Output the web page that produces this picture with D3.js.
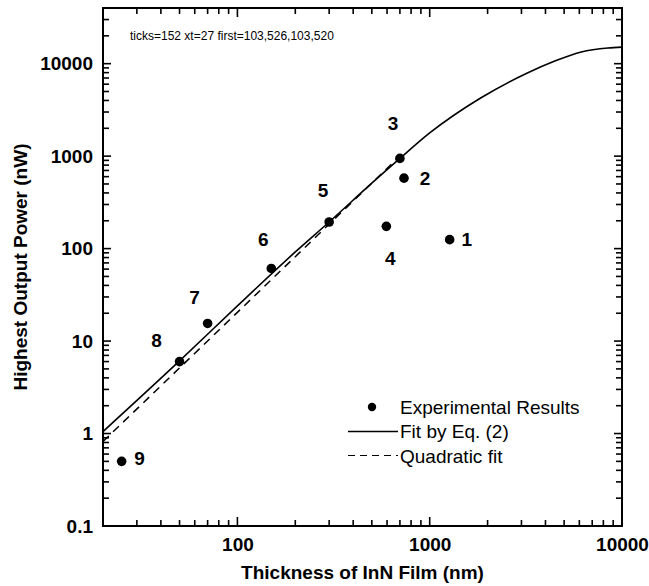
<!DOCTYPE html>
<html lang="en">
<head>
<meta charset="UTF-8">
<script src="https://cdn.jsdelivr.net/npm/d3@7/dist/d3.min.js"></script>
<style>
    body { margin: 0; background: #fff; }
    text { font-family: "Liberation Sans", Arial, sans-serif; fill: #000; }
    .tick-label { font-size: 19px; font-weight: bold; }
    .axis-title { font-size: 19px; font-weight: bold; }
    .point-label { font-size: 19px; font-weight: bold; }
    .legend-text { font-size: 19px; }
</style>
</head>
<body>
<svg id="chart" width="649" height="586"></svg>
<script>
// measured samples (thickness in nm, power in nW)
const thickness = [1270, 735, 700, 595, 300, 150, 70, 50, 25];
const power = [125, 578, 945, 174, 194, 61, 15.5, 6, 0.5];
const sampleIds = ["1", "2", "3", "4", "5", "6", "7", "8", "9"];

// fit by Eq. (2)
const fitX = [20, 50, 100, 200, 300, 500, 700, 1000, 1840, 3220, 4440, 6140, 8450, 10000];
const fitY = [1.05, 6.1, 24, 92, 194, 510, 945, 1780, 4250, 7930, 10600, 13390, 14780, 15100];

// quadratic fit (straight on log-log)
const quadX = [20, 700];
const quadY = [0.82, 1000];

const xTickValues = [100, 1000, 10000];
const xTickLabels = ["100", "1000", "10000"];
const yTickValues = [0.1, 1, 10, 100, 1000, 10000];
const yTickLabels = ["0.1", "1", "10", "100", "1000", "10000"];
const legendLabels = ["Experimental Results", "Fit by Eq. (2)", "Quadratic fit"];

// where each sample number sits relative to its dot (px)
const labelNudge = [[17, 0], [21, 0], [-7, -35], [4, 32], [-6, -32], [-8, -29], [-13, -26], [-23, -21], [18, -3]];

const plotLeft = 103, plotRight = 622, plotTop = 8, plotBottom = 526;

const svg = d3.select("#chart");

const xScale = d3.scaleLog().domain([20, 10000]).range([plotLeft, plotRight]);
const yScale = d3.scaleLog().domain([0.1, 40000]).range([plotBottom, plotTop]);

const xAllTicks = xScale.ticks(10);
const yAllTicks = yScale.ticks(10);
const near = (list, d) => list.some(v => Math.abs(v - d) / v < 1e-6);

svg.append("rect")
    .attr("x", plotLeft).attr("y", plotTop)
    .attr("width", plotRight - plotLeft).attr("height", plotBottom - plotTop)
    .attr("fill", "none").attr("stroke", "#000").attr("stroke-width", 2);

// tick marks, inward on all four sides
const xTickData = [];
xAllTicks.forEach(d => {
    const len = near(xTickValues, d) ? 9 : 6;
    xTickData.push({ p: xScale(d), a: plotBottom, b: plotBottom - len });
    xTickData.push({ p: xScale(d), a: plotTop, b: plotTop + len });
});
const yTickData = [];
yAllTicks.forEach(d => {
    const len = near(yTickValues, d) ? 8 : 6;
    yTickData.push({ p: yScale(d), a: plotLeft, b: plotLeft + len });
    yTickData.push({ p: yScale(d), a: plotRight, b: plotRight - len });
});

svg.append("g").attr("class", "ticks").selectAll("line")
    .data(xTickData)
    .join("line")
    .attr("x1", d => d.p).attr("x2", d => d.p)
    .attr("y1", d => d.a).attr("y2", d => d.b)
    .style("stroke", "#000").style("stroke-width", "1.6px");

svg.append("g").attr("class", "ticks").selectAll("line")
    .data(yTickData)
    .join("line")
    .attr("y1", d => d.p).attr("y2", d => d.p)
    .attr("x1", d => d.a).attr("x2", d => d.b)
    .style("stroke", "#000").style("stroke-width", "1.6px");

// tick labels through d3 axes
const xAxisG = svg.append("g")
    .attr("transform", `translate(0,${plotBottom})`)
    .call(d3.axisBottom(xScale).tickValues(xTickValues).tickSize(0).tickPadding(12)
        .tickFormat((d, i) => xTickLabels[i]));
const yAxisG = svg.append("g")
    .attr("transform", `translate(${plotLeft},0)`)
    .call(d3.axisLeft(yScale).tickValues(yTickValues).tickSize(0).tickPadding(10)
        .tickFormat((d, i) => yTickLabels[i]));
[xAxisG, yAxisG].forEach(g => {
    g.select(".domain").remove();
    g.attr("font-family", null).attr("font-size", null);
    g.selectAll("text").attr("class", "tick-label");
});

// curves
const curveGen = d3.line()
    .x(d => xScale(d[0]))
    .y(d => yScale(d[1]))
    .curve(d3.curveMonotoneX);

svg.append("path")
    .datum(d3.zip(quadX, quadY))
    .attr("d", curveGen)
    .attr("fill", "none")
    .attr("stroke", "#000")
    .attr("stroke-width", 1.5)
    .attr("stroke-dasharray", "8,6");

svg.append("path")
    .datum(d3.zip(fitX, fitY))
    .attr("d", curveGen)
    .attr("fill", "none")
    .attr("stroke", "#000")
    .attr("stroke-width", 1.6);

// sample dots and numbers
const samples = d3.zip(thickness, power, sampleIds, labelNudge);
svg.selectAll("circle.pt")
    .data(samples)
    .enter().append("circle")
    .attr("class", "pt")
    .attr("cx", d => xScale(d[0]))
    .attr("cy", d => yScale(d[1]))
    .attr("r", 4.8)
    .attr("fill", "#000");

svg.selectAll("text.point-label")
    .data(samples)
    .enter().append("text")
    .attr("class", "point-label")
    .attr("x", d => xScale(d[0]) + d[3][0])
    .attr("y", d => yScale(d[1]) + d[3][1])
    .attr("dy", "0.36em")
    .attr("text-anchor", "middle")
    .text(d => d[2]);

// legend
const legend = svg.append("g").attr("transform", "translate(348,407)");
legend.append("circle").attr("cx", 24).attr("cy", 0).attr("r", 4.2).attr("fill", "#000");
legend.append("line").attr("x1", 0).attr("x2", 50).attr("y1", 24.5).attr("y2", 24.5)
    .attr("stroke", "#000").attr("stroke-width", 1.5);
legend.append("line").attr("x1", 0).attr("x2", 50).attr("y1", 48.5).attr("y2", 48.5)
    .attr("stroke", "#000").attr("stroke-width", 1.2).attr("stroke-dasharray", "7,5");
legend.selectAll("text")
    .data(legendLabels)
    .enter().append("text")
    .attr("class", "legend-text")
    .attr("x", 52)
    .attr("y", (d, i) => i * 24.5)
    .attr("dy", "0.36em")
    .text(d => d);

// axis titles
svg.append("text")
    .attr("class", "axis-title")
    .attr("x", (plotLeft + plotRight) / 2)
    .attr("y", 579)
    .attr("text-anchor", "middle")
    .text("Thickness of InN Film (nm)");

svg.append("text")
    .attr("class", "axis-title")
    .attr("transform", `translate(27,${(plotTop + plotBottom) / 2}) rotate(-90)`)
    .attr("text-anchor", "middle")
    .text("Highest Output Power (nW)");

// temporary check of the tick elements
const tl = document.querySelectorAll("g.ticks line");
const first = tl[0];
svg.append("text").attr("x", 130).attr("y", 40).style("font-size", "12px")
    .text("ticks=" + tl.length + " xt=" + xAllTicks.length + " first=" +
        (first ? [first.getAttribute("x1"), first.getAttribute("y1"), first.getAttribute("x2"), first.getAttribute("y2")].join(",") : "none"));
</script>
</body>
</html>
